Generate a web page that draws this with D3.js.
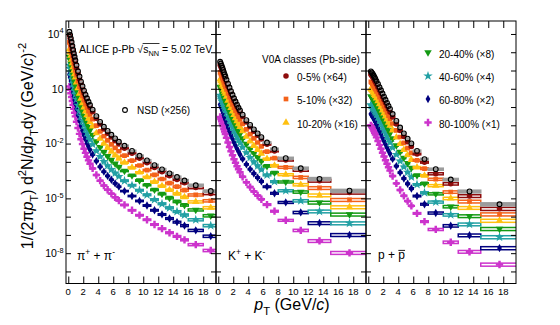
<!DOCTYPE html>
<html>
<head>
<meta charset="utf-8">
<script src="https://cdn.jsdelivr.net/npm/d3@7"></script>
<style>
  html, body { margin: 0; padding: 0; background: #fff; overflow: hidden; }
  svg { display: block; font-family: "Liberation Sans", Arial, sans-serif; }
</style>
</head>
<body>
<svg width="560" height="325"></svg>
<script>
// V0A multiplicity classes and the factor each spectrum is scaled by
const classNames = ['NSD', '0-5%', '5-10%', '10-20%', '20-40%', '40-60%', '60-80%', '80-100%'];
const classFactors = [256, 64, 32, 16, 8, 4, 2, 1];

// pT bin edges (GeV/c)
const pionEdges = [0.1,0.2,0.3,0.4,0.5,0.6,0.7,0.8,0.9,1.0,1.2,1.4,1.6,1.8,2.0,2.2,2.4,2.6,2.8,3.0,3.5,4.0,4.5,5.0,5.5,6.0,6.5,7.0,8,9,10,11,12,13,14,15,16,18,20];
const kaonEdges = [0.2,0.3,0.4,0.5,0.6,0.7,0.8,0.9,1.0,1.2,1.4,1.6,1.8,2.0,2.2,2.4,2.6,2.8,3.0,3.5,4.0,4.5,5.0,5.5,6.0,7.0,8.0,10,12,15,20];
const protonEdges = [0.3,0.4,0.5,0.6,0.7,0.8,0.9,1.0,1.2,1.4,1.6,1.8,2.0,2.2,2.4,2.6,2.8,3.0,3.5,4.0,4.5,5.0,5.5,6.0,7.0,8.0,10,12,15,20];

// relative systematic uncertainty per bin
const pionSys = [0.06,0.06,0.06,0.06,0.06,0.06,0.06,0.06,0.06,0.06,0.06,0.06,0.06,0.06,0.06,0.06,0.06,0.06,0.06,
  0.07,0.07,0.07,0.07,0.07,0.07,0.07,0.07,0.08,0.08,0.09,0.09,0.10,0.10,0.11,0.11,0.12,0.13,0.14];
const kaonSys = [0.07,0.07,0.07,0.07,0.07,0.07,0.07,0.07,0.07,0.07,0.07,0.07,0.07,0.07,0.07,0.07,0.07,0.07,
  0.08,0.08,0.08,0.09,0.09,0.10,0.10,0.11,0.12,0.14,0.17,0.18];
const protonSys = [0.07,0.07,0.07,0.07,0.07,0.07,0.07,0.07,0.07,0.07,0.07,0.07,0.07,0.07,0.07,0.07,0.07,
  0.08,0.08,0.08,0.09,0.09,0.10,0.10,0.11,0.13,0.15,0.17,0.19];

// log10 of the scaled invariant yield 1/(2 pi pT) d2N/dpTdy
const pionNSD = [4.12,3.95,3.76,3.56,3.35,3.14,2.94,2.75,2.56,2.29,1.96,1.67,1.39,1.14,0.90,0.68,0.48,0.29,0.11,-0.14,-0.50,-0.81,-1.08,-1.31,-1.52,-1.72,-1.90,-2.12,-2.40,-2.67,-2.92,-3.18,-3.41,-3.63,-3.83,-4.02,-4.28,-4.60];
const pion0to5 = [3.94,3.77,3.59,3.38,3.18,2.97,2.78,2.59,2.40,2.14,1.82,1.52,1.26,1.01,0.77,0.56,0.36,0.17,-0.01,-0.26,-0.62,-0.93,-1.20,-1.43,-1.64,-1.84,-2.02,-2.26,-2.53,-2.80,-3.05,-3.31,-3.54,-3.76,-3.96,-4.15,-4.41,-4.73];
const pion5to10 = [3.54,3.37,3.19,2.98,2.78,2.57,2.38,2.19,2.00,1.74,1.42,1.12,0.86,0.61,0.37,0.16,-0.04,-0.23,-0.41,-0.66,-1.02,-1.33,-1.60,-1.83,-2.04,-2.24,-2.42,-2.66,-2.93,-3.20,-3.45,-3.71,-3.94,-4.16,-4.36,-4.55,-4.81,-5.13];
const pion10to20 = [3.16,2.99,2.81,2.60,2.40,2.19,1.99,1.80,1.62,1.35,1.03,0.73,0.46,0.21,-0.02,-0.24,-0.44,-0.63,-0.81,-1.06,-1.42,-1.73,-2.00,-2.23,-2.44,-2.64,-2.82,-3.04,-3.31,-3.58,-3.83,-4.09,-4.32,-4.54,-4.74,-4.93,-5.19,-5.51];
const pion20to40 = [2.74,2.57,2.38,2.18,1.97,1.76,1.56,1.37,1.18,0.91,0.58,0.29,0.01,-0.24,-0.48,-0.70,-0.90,-1.09,-1.27,-1.52,-1.88,-2.19,-2.46,-2.69,-2.90,-3.10,-3.28,-3.50,-3.75,-4.02,-4.27,-4.53,-4.76,-4.98,-5.18,-5.37,-5.63,-5.95];
const pion40to60 = [2.28,2.11,1.92,1.72,1.51,1.29,1.09,0.89,0.70,0.43,0.09,-0.21,-0.49,-0.75,-0.99,-1.21,-1.41,-1.61,-1.78,-2.04,-2.40,-2.71,-2.98,-3.21,-3.42,-3.62,-3.80,-4.04,-4.29,-4.56,-4.81,-5.07,-5.30,-5.52,-5.72,-5.91,-6.17,-6.49];
const pion60to80 = [1.78,1.61,1.42,1.22,1.00,0.79,0.58,0.38,0.18,-0.10,-0.44,-0.75,-1.03,-1.29,-1.54,-1.76,-1.97,-2.16,-2.34,-2.60,-2.96,-3.27,-3.54,-3.77,-3.98,-4.18,-4.36,-4.60,-4.87,-5.14,-5.39,-5.65,-5.88,-6.10,-6.30,-6.49,-6.75,-7.07];
const pion80to100 = [1.12,0.95,0.76,0.55,0.33,0.11,-0.10,-0.31,-0.51,-0.80,-1.15,-1.47,-1.76,-2.03,-2.28,-2.51,-2.72,-2.92,-3.10,-3.36,-3.72,-4.03,-4.30,-4.53,-4.74,-4.94,-5.12,-5.36,-5.65,-5.92,-6.17,-6.43,-6.66,-6.88,-7.08,-7.27,-7.53,-7.85];

const kaonNSD = [2.48,2.38,2.27,2.15,2.03,1.91,1.79,1.67,1.50,1.28,1.07,0.87,0.67,0.48,0.30,0.13,-0.03,-0.18,-0.42,-0.72,-0.98,-1.22,-1.44,-1.65,-1.94,-2.30,-2.80,-3.35,-3.93,-4.58];
const kaon0to5 = [2.30,2.20,2.09,1.98,1.87,1.75,1.63,1.52,1.36,1.14,0.94,0.74,0.55,0.36,0.20,0.02,-0.13,-0.28,-0.52,-0.82,-1.08,-1.32,-1.54,-1.75,-2.04,-2.40,-2.90,-3.45,-4.03,-4.68];
const kaon5to10 = [1.90,1.80,1.69,1.58,1.47,1.35,1.23,1.12,0.96,0.74,0.54,0.34,0.15,-0.04,-0.20,-0.38,-0.53,-0.68,-0.92,-1.22,-1.48,-1.72,-1.94,-2.15,-2.44,-2.80,-3.30,-3.85,-4.43,-5.08];
const kaon10to20 = [1.52,1.42,1.31,1.19,1.09,0.96,0.85,0.73,0.57,0.35,0.14,-0.05,-0.24,-0.43,-0.60,-0.77,-0.93,-1.08,-1.32,-1.62,-1.88,-2.12,-2.34,-2.55,-2.84,-3.20,-3.70,-4.25,-4.83,-5.48];
const kaon20to40 = [1.10,1.00,0.89,0.78,0.67,0.55,0.43,0.32,0.16,-0.06,-0.26,-0.46,-0.65,-0.84,-1.00,-1.18,-1.33,-1.48,-1.72,-2.02,-2.28,-2.52,-2.74,-2.95,-3.24,-3.60,-4.10,-4.65,-5.23,-5.88];
const kaon40to60 = [0.64,0.54,0.43,0.31,0.21,0.08,-0.03,-0.15,-0.31,-0.53,-0.74,-0.93,-1.12,-1.31,-1.48,-1.65,-1.81,-1.96,-2.20,-2.50,-2.76,-3.00,-3.22,-3.43,-3.72,-4.08,-4.58,-5.13,-5.71,-6.36];
const kaon60to80 = [0.14,0.04,-0.08,-0.20,-0.32,-0.45,-0.57,-0.69,-0.87,-1.10,-1.32,-1.53,-1.73,-1.93,-2.11,-2.28,-2.44,-2.60,-2.84,-3.14,-3.40,-3.64,-3.86,-4.07,-4.36,-4.72,-5.22,-5.77,-6.35,-7.00];
const kaon80to100 = [-0.54,-0.65,-0.78,-0.92,-1.05,-1.20,-1.34,-1.48,-1.68,-1.94,-2.19,-2.42,-2.64,-2.86,-3.05,-3.24,-3.41,-3.57,-3.82,-4.12,-4.38,-4.62,-4.84,-5.05,-5.34,-5.70,-6.20,-6.75,-7.33,-7.98];

const protonNSD = [1.95,1.90,1.84,1.77,1.70,1.62,1.54,1.42,1.26,1.09,0.92,0.74,0.57,0.40,0.23,0.06,-0.10,-0.38,-0.76,-1.12,-1.44,-1.73,-1.99,-2.40,-2.85,-3.40,-3.97,-4.62,-5.32];
const proton0to5 = [1.78,1.73,1.67,1.60,1.53,1.45,1.37,1.25,1.09,0.92,0.75,0.57,0.40,0.23,0.06,-0.11,-0.27,-0.55,-0.93,-1.29,-1.61,-1.90,-2.16,-2.57,-3.02,-3.65,-4.20,-4.87,-5.57];
const proton5to10 = [1.38,1.33,1.28,1.20,1.13,1.05,0.98,0.86,0.71,0.54,0.38,0.20,0.03,-0.13,-0.30,-0.47,-0.63,-0.90,-1.28,-1.64,-1.96,-2.25,-2.51,-2.92,-3.37,-3.95,-4.65,-5.17,-5.87];
const proton10to20 = [1.00,0.95,0.90,0.82,0.75,0.67,0.60,0.48,0.33,0.16,0.00,-0.18,-0.35,-0.51,-0.68,-0.85,-1.01,-1.28,-1.66,-2.02,-2.34,-2.63,-2.89,-3.30,-3.75,-4.30,-5.00,-5.52,-6.22];
const proton20to40 = [0.58,0.53,0.48,0.40,0.33,0.25,0.18,0.06,-0.10,-0.26,-0.43,-0.61,-0.78,-0.95,-1.12,-1.28,-1.44,-1.72,-2.10,-2.46,-2.78,-3.07,-3.33,-3.74,-4.19,-4.75,-5.45,-5.97,-6.67];
const proton40to60 = [0.12,0.07,0.01,-0.06,-0.13,-0.22,-0.29,-0.42,-0.57,-0.74,-0.91,-1.09,-1.27,-1.44,-1.61,-1.78,-1.94,-2.22,-2.60,-2.96,-3.28,-3.57,-3.83,-4.24,-4.69,-5.20,-5.90,-6.42,-7.12];
const proton60to80 = [-0.38,-0.43,-0.49,-0.57,-0.65,-0.74,-0.81,-0.95,-1.12,-1.30,-1.48,-1.68,-1.86,-2.04,-2.22,-2.39,-2.56,-2.84,-3.23,-3.59,-3.91,-4.20,-4.46,-4.87,-5.32,-5.80,-6.50,-7.02,-7.72];
const proton80to100 = [-1.00,-1.06,-1.13,-1.22,-1.31,-1.41,-1.50,-1.66,-1.86,-2.07,-2.28,-2.50,-2.71,-2.91,-3.11,-3.30,-3.48,-3.78,-4.18,-4.54,-4.86,-5.15,-5.41,-5.82,-6.27,-6.70,-7.40,-7.92,-8.62];

const panels = [
  {edges: pionEdges, sys: pionSys,
   series: [pionNSD, pion0to5, pion5to10, pion10to20, pion20to40, pion40to60, pion60to80, pion80to100]},
  {edges: kaonEdges, sys: kaonSys,
   series: [kaonNSD, kaon0to5, kaon5to10, kaon10to20, kaon20to40, kaon40to60, kaon60to80, kaon80to100]},
  {edges: protonEdges, sys: protonSys,
   series: [protonNSD, proton0to5, proton5to10, proton10to20, proton20to40, proton40to60, proton60to80, proton80to100]}
];

const svg = d3.select('svg');
const margin = {left: 66, top: 21, bottom: 41.5};
const panelWidth = 150;
const innerHeight = +svg.attr('height') - margin.top - margin.bottom;

const xScale = d3.scaleLinear().domain([-0.3, 19.7]).range([0, panelWidth]);
const yScale = d3.scaleLog().domain([Math.pow(10, -9.66), Math.pow(10, 4.71)]).range([innerHeight, 0]);

const colors = ['#000000', '#8e0c0c', '#f4621a', '#ffc010', '#139a13', '#22a0a4', '#00007f', '#cc33cc'];
const boxColors = ['#9c9c9c', '#8e0c0c', '#f4621a', '#ffc010', '#139a13', '#22a0a4', '#00007f', '#cc33cc'];
const symbols = [d3.symbolCircle, d3.symbolCircle, d3.symbolSquare, d3.symbolTriangle, d3.symbolTriangle,
  d3.symbolStar, d3.symbolDiamond, d3.symbolCross];
const symbolSizes = [18, 24, 22, 24, 24, 28, 20, 30];
const symbolTurn = [0, 0, 0, 0, 180, 0, 0, 0];

const drawMarker = (sel, c) => sel
  .attr('d', d3.symbol().type(symbols[c]).size(symbolSizes[c]))
  .attr('fill', c === 0 ? 'none' : colors[c])
  .attr('stroke', c === 0 ? '#000' : 'none')
  .attr('stroke-width', 1.1);

const defs = svg.append('defs');
const decades = d3.range(-9, 5).map(e => Math.pow(10, e));
const xTicks = d3.range(0, 19, 2);

const bareAxis = ax => {
  ax.select('.domain').remove();
  ax.selectAll('text').remove();
};

panels.forEach((panel, i) => {
  const g = svg.append('g')
    .attr('transform', `translate(${margin.left + i * panelWidth},${margin.top})`);

  defs.append('clipPath').attr('id', `clip${i}`)
    .append('rect').attr('width', panelWidth).attr('height', innerHeight);
  const plot = g.append('g').attr('clip-path', `url(#clip${i})`);

  const edges = panel.edges;
  // peripheral first, NSD drawn last on top
  d3.range(classNames.length - 1, -1, -1).forEach(c => {
    const pts = panel.series[c].map((v, k) => ({
      lo: edges[k], hi: edges[k + 1], pt: (edges[k] + edges[k + 1]) / 2,
      val: Math.pow(10, v), sys: panel.sys[k]
    }));
    plot.append('g').selectAll('rect').data(pts).join('rect')
      .attr('x', d => xScale(d.lo))
      .attr('width', d => xScale(d.hi) - xScale(d.lo))
      .attr('y', d => yScale(d.val * (1 + d.sys)))
      .attr('height', d => yScale(d.val * (1 - d.sys)) - yScale(d.val * (1 + d.sys)))
      .attr('fill', c === 0 ? boxColors[0] : 'none')
      .attr('stroke', boxColors[c])
      .attr('stroke-width', 1.5);
    plot.append('g').selectAll('path').data(pts).join('path')
      .call(drawMarker, c)
      .attr('transform', d => `translate(${xScale(d.pt)},${yScale(d.val)}) rotate(${symbolTurn[c]})`);
  });

  // ticks on all four sides, pointing inwards
  g.append('g').attr('transform', `translate(0,${innerHeight})`)
    .call(d3.axisBottom(xScale).tickValues(xTicks).tickSize(-7))
    .call(bareAxis);
  g.append('g')
    .call(d3.axisTop(xScale).tickValues(xTicks).tickSize(-7))
    .call(bareAxis);
  g.append('g')
    .call(d3.axisLeft(yScale).tickValues(decades).tickSize(-5))
    .call(bareAxis);
  g.append('g').attr('transform', `translate(${panelWidth},0)`)
    .call(d3.axisRight(yScale).tickValues(decades).tickSize(-5))
    .call(bareAxis);

  // pT labels under each panel
  g.append('g').selectAll('text').data(xTicks).join('text')
    .attr('x', d => xScale(d))
    .attr('y', innerHeight + 11)
    .attr('text-anchor', 'middle')
    .attr('font-size', 9.5)
    .text(d => d);

  g.append('rect')
    .attr('width', panelWidth).attr('height', innerHeight)
    .attr('fill', 'none').attr('stroke', '#000');
});

// text with sub/superscript runs
function richText(parent, x, y, size, parts) {
  const t = parent.append('text').attr('x', x).attr('y', y).attr('font-size', size).attr('fill', '#000');
  let shift = 0;
  parts.forEach(p => {
    const s = t.append('tspan').text(p.t);
    const target = p.sub ? size * 0.3 : p.sup ? -size * 0.42 : 0;
    if (target !== shift) { s.attr('dy', target - shift); shift = target; }
    if (p.sub || p.sup) s.attr('font-size', size * 0.7);
    if (p.i) s.attr('font-style', 'italic');
  });
  return t;
}

// y tick labels on the first panel
[4, 1, -2, -5, -8].forEach(e => {
  const parts = [{t: '10'}];
  if (e !== 1) parts.push({t: String(e), sup: true});
  richText(svg, margin.left - 2.5, margin.top + yScale(Math.pow(10, e)) + 3.8, 10.5, parts)
    .attr('text-anchor', 'end');
});

// axis titles
richText(svg, 0, 0, 16, [
  {t: '1/(2\u03C0'}, {t: 'p', i: true}, {t: 'T', sub: true}, {t: ') d'}, {t: '2', sup: true},
  {t: 'N/d'}, {t: 'p', i: true}, {t: 'T', sub: true}, {t: 'dy (GeV/'}, {t: 'c', i: true}, {t: ')'},
  {t: '-2', sup: true}
]).attr('text-anchor', 'middle').attr('transform', 'translate(33,146) rotate(-90)');

richText(svg, 292, 310, 16, [
  {t: 'p', i: true}, {t: 'T', sub: true}, {t: ' (GeV/'}, {t: 'c', i: true}, {t: ')'}
]).attr('text-anchor', 'middle');

// collision system
const alice = richText(svg, 79, 52.5, 10.5, [
  {t: 'ALICE p-Pb \u221A'}, {t: 's'}, {t: 'NN', sub: true}, {t: ' = 5.02 TeV'}
]);
{
  const node = alice.node();
  const start = 79 + node.getSubStringLength(0, 12);
  const len = node.getSubStringLength(12, 3);
  svg.append('line')
    .attr('x1', start - 0.5).attr('x2', start + len + 0.5)
    .attr('y1', 52.5 - 9).attr('y2', 52.5 - 9)
    .attr('stroke', '#000').attr('stroke-width', 0.8);
}

// NSD entry
svg.append('path').call(drawMarker, 0).attr('transform', 'translate(125,110)');
svg.append('text').attr('x', 137).attr('y', 113.5).attr('font-size', 10).text(`NSD (\u00D7${classFactors[0]})`);

// class legend
svg.append('text').attr('x', 262).attr('y', 62.5).attr('font-size', 10).text('V0A classes (Pb-side)');
const legendPos = [null, [286, 76], [286, 99], [286, 122.5], [428, 52.5], [428, 76], [428, 99], [428, 122.5]];
classNames.forEach((name, c) => {
  if (c === 0) return;
  const [lx, ly] = legendPos[c];
  svg.append('path').call(drawMarker, c)
    .attr('transform', `translate(${lx},${ly}) rotate(${symbolTurn[c]})`);
  svg.append('text').attr('x', lx + 11).attr('y', ly + 5)
    .attr('font-size', 10).text(`${name} (\u00D7${classFactors[c]})`);
});

// particle labels
richText(svg, 77, 260, 12, [{t: '\u03C0'}, {t: '+', sup: true}, {t: ' + \u03C0'}, {t: '-', sup: true}]);
richText(svg, 228, 260, 12, [{t: 'K'}, {t: '+', sup: true}, {t: ' + K'}, {t: '-', sup: true}]);
const pp = richText(svg, 378, 259, 12, [{t: 'p + p'}]);
{
  const node = pp.node();
  const start = 378 + node.getSubStringLength(0, 4);
  const len = node.getSubStringLength(4, 1);
  svg.append('line')
    .attr('x1', start).attr('x2', start + len)
    .attr('y1', 259 - 8.6).attr('y2', 259 - 8.6)
    .attr('stroke', '#000').attr('stroke-width', 0.9);
}
</script>
</body>
</html>
